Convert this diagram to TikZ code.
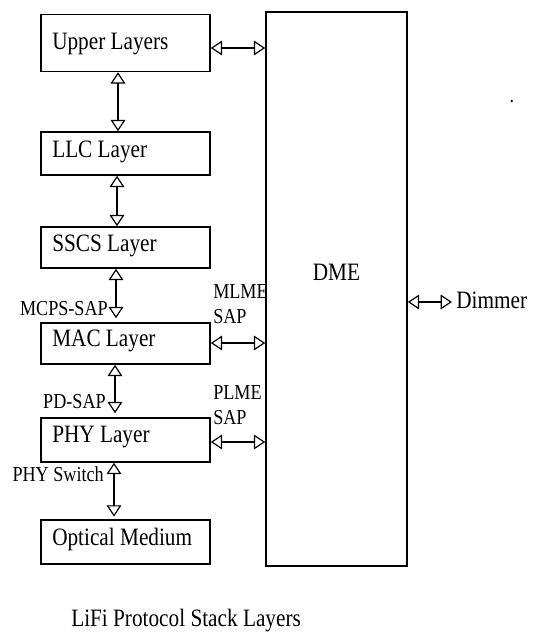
\documentclass[tikz,border=0pt]{standalone}
\usepackage{fontspec}
\setmainfont[FakeStretch=0.85]{Liberation Serif}
\usetikzlibrary{arrows.meta}
\begin{document}
\begin{tikzpicture}[x=0.75pt,y=-0.75pt,
  layerbox/.style={draw, line width=1.1pt, minimum width=169*0.75pt, inner sep=0pt},
  boxtext/.style={font=\fontsize{18.75pt}{22pt}\selectfont},
  smalltext/.style={font=\fontsize{16pt}{19pt}\selectfont, inner sep=0pt},
  biarr/.style={line width=0.9pt, {Triangle[open,length=8.5pt,width=11pt]}-{Triangle[open,length=8.5pt,width=11pt]}}]
\useasboundingbox (0,0) rectangle (534,635);
% layer boxes (left x = 41, right x = 210)
\node[layerbox, minimum height=57*0.75pt] (up) at (125.5,43) {};
\node[layerbox, minimum height=43*0.75pt] (llc) at (125.5,153.5) {};
\node[layerbox, minimum height=41*0.75pt] (sscs) at (125.5,247.5) {};
\node[layerbox, minimum height=41*0.75pt] (mac) at (125.5,343.5) {};
\node[layerbox, minimum height=44*0.75pt] (phy) at (125.5,440) {};
\node[layerbox, minimum height=44*0.75pt] (opt) at (125.5,542) {};
\node[boxtext, anchor=west, inner sep=0pt] (tup) at (52,44) {Upper Layers};
\node[boxtext, anchor=west, inner sep=0pt] (tllc) at (52,152) {LLC Layer};
\node[boxtext, anchor=west, inner sep=0pt] (tsscs) at (52,246) {SSCS Layer};
\node[boxtext, anchor=west, inner sep=0pt] (tmac) at (52,341) {MAC Layer};
\node[boxtext, anchor=west, inner sep=0pt] (tphy) at (52,437) {PHY Layer};
\node[boxtext, anchor=west, inner sep=0pt] (topt) at (52,539) {Optical Medium};
% DME
\node[draw, line width=1.1pt, minimum width=141*0.75pt, minimum height=554*0.75pt, inner sep=0pt] (dme) at (336.5,289) {};
\node[boxtext, inner sep=0pt] (tdme) at (336.5,272) {DME};
% vertical connectors
\draw[biarr] (up.south -| 118,0) -- (llc.north -| 118,0);
\draw[biarr] (llc.south -| 117,0) -- (sscs.north -| 117,0);
\draw[biarr] (sscs.south -| 116,0) -- ([yshift=3pt]mac.north -| 116,0);
\draw[biarr] (mac.south -| 115,0) -- ([yshift=3pt]phy.north -| 115,0);
\draw[biarr] (phy.south -| 114,0) -- ([yshift=2pt]opt.north -| 114,0);
% horizontal connectors to DME
\draw[biarr] (up.east |- 0,48) -- (dme.west |- 0,48);
\draw[biarr] (mac.east |- 0,343) -- (dme.west |- 0,343);
\draw[biarr] (phy.east |- 0,442) -- (dme.west |- 0,442);
\coordinate (dimend) at (452,302);
\draw[biarr] (dme.east |- dimend) -- (dimend);
\node[boxtext, anchor=west, inner sep=0pt] (tdim) at (456,300) {Dimmer};
% labels
\node[smalltext, anchor=east] (lmcps) at (108,309) {MCPS-SAP};
\node[smalltext, anchor=east] (lpd) at (106,402) {PD-SAP};
\node[smalltext, anchor=east] (lsw) at (104,474) {PHY Switch};
\node[smalltext, anchor=west, align=left] (lmlme) at (213,304) {MLME\\SAP};
\node[smalltext, anchor=west, align=left] (lplme) at (213,405) {PLME\\SAP};
\node[smalltext, inner sep=0pt] (dot) at (512,102) {.};
% caption
\node[boxtext, anchor=west, inner sep=0pt] (cap) at (71,621) {LiFi Protocol Stack Layers};
\end{tikzpicture}
\end{document}
